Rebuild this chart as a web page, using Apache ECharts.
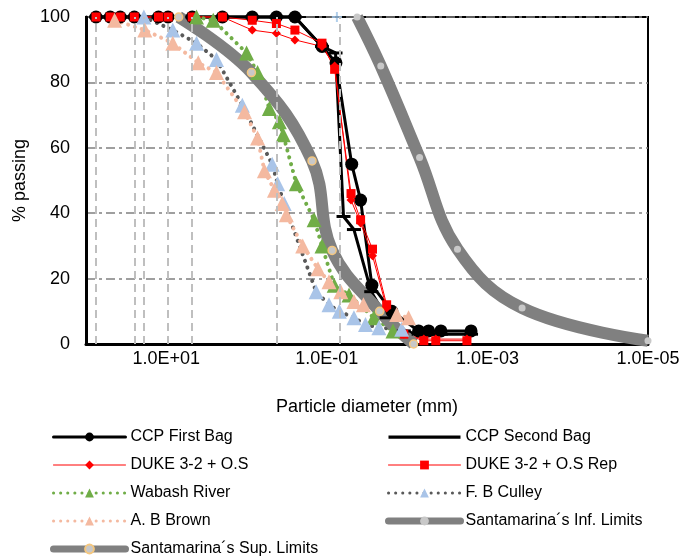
<!DOCTYPE html>
<html>
<head>
<meta charset="utf-8">
<script src="https://cdn.jsdelivr.net/npm/echarts@6/dist/echarts.min.js"></script>
<style>
  html, body { margin: 0; padding: 0; background: #fff; }
  #main { width: 698px; height: 558px; }
</style>
</head>
<body>
<div id="main"></div>
<script>
// particle diameter (mm), % passing
const ccpFirst = [[75,100],[50,100],[37.5,100],[25,100],[12.5,100],[9.5,100],[4.75,100],[2,100],[0.85,100],[0.425,100],[0.25,100],[0.115,91],[0.077,86],[0.049,55],[0.038,44],[0.0275,18],[0.0155,10],[0.0072,4],[0.0054,4],[0.0038,4],[0.0016,4]];
const ccpSecond = [[75,100],[50,100],[37.5,100],[25,100],[12.5,100],[9.5,100],[4.75,100],[2,100],[0.85,100],[0.425,100],[0.25,100],[0.115,91],[0.078,89],[0.062,39],[0.046,35],[0.028,16],[0.018,8],[0.011,4],[0.0072,3],[0.0054,3],[0.0038,3],[0.0016,3]];
const duke = [[75,100],[50,100],[37.5,100],[25,100],[12.5,100],[9.5,100],[4.75,100],[2,100],[0.85,96],[0.425,95],[0.25,93],[0.115,91],[0.08,85],[0.05,44],[0.038,37],[0.027,27],[0.018,11],[0.011,3],[0.0062,1.5],[0.0044,1.5],[0.0018,1.5]];
const dukeRep = [[75,100],[50,100],[37.5,100],[25,100],[12.5,100],[9.5,100],[4.75,100],[2,100],[0.85,99],[0.425,98],[0.25,96],[0.115,92],[0.08,84],[0.05,46],[0.038,38],[0.027,29],[0.018,12],[0.011,3],[0.0062,1],[0.0044,1],[0.0018,1]];
const wabash = [[4.2,100],[2.6,99],[1.0,89],[0.73,83],[0.52,72],[0.39,68],[0.35,64],[0.24,49],[0.144,38],[0.115,30],[0.081,18],[0.053,15],[0.026,8],[0.015,4]];
const culley = [[19,100],[8.3,96],[4.2,92],[2.37,87],[1.13,73],[0.48,55],[0.41,49],[0.34,43],[0.136,16],[0.094,12],[0.07,10],[0.046,8],[0.033,6],[0.0225,5],[0.0117,4.5]];
const brown = [[44,99],[18.5,96],[8.3,92],[4,86],[2.37,83],[1.06,71],[0.73,63],[0.6,53],[0.45,47],[0.36,43],[0.32,39.5],[0.2,30],[0.129,23],[0.094,19],[0.067,16],[0.046,13],[0.035,12],[0.0135,9],[0.0096,8]];
const infLimits = [[0.042,100],[0.0213,85],[0.007,57],[0.00236,29],[0.00037,11],[0.00001,1]];
const supLimits = [[7,100],[0.87,83],[0.153,56],[0.086,28.6],[0.022,10],[0.0083,0]];

// sieve openings (mm) marked by dashed verticals
const sieves = [75, 25, 19, 9.5, 4.75, 0.425, 0.075];
const xTickValues = [10, 0.1, 0.001, 0.00001];

const NAME_SUP = 'Santamarina\u00b4s Sup. Limits';
const NAME_INF = 'Santamarina\u00b4s Inf. Limits';
const legendLeft = ['CCP First Bag', 'DUKE 3-2 + O.S', 'Wabash River', 'A. B Brown', NAME_SUP];
const legendRight = ['CCP Second Bag', 'DUKE 3-2 + O.S Rep', 'F. B Culley', NAME_INF];
// line width of each legend sample
const legendWidths = {
    'CCP First Bag': 3, 'CCP Second Bag': 3,
    'DUKE 3-2 + O.S': 1, 'DUKE 3-2 + O.S Rep': 1,
    'Wabash River': 3, 'F. B Culley': 3, 'A. B Brown': 3
};
legendWidths[NAME_SUP] = 7;
legendWidths[NAME_INF] = 7;

const FONT = 'Liberation Sans, Arial, sans-serif';
const plusPath = 'path://M4,0H6V4H10V6H6V10H4V6H0V4H4Z';
// plain thick line for the legend sample (dash marker blends into the line)
const lineIcon = 'path://M0,0M72,11M0,4H72V7.2H0Z';

function fmtExp(v) {
    const e = Math.round(Math.log10(v));
    const s = e < 0 ? '-' : '+';
    const a = Math.abs(e);
    return '1.0E' + s + (a < 10 ? '0' : '') + a;
}

function legendItems(names) {
    return names.map(n => {
        const item = { name: n, lineStyle: { width: legendWidths[n], cap: 'round' } };
        if (n === 'CCP Second Bag') item.icon = lineIcon;
        return item;
    });
}

const chart = echarts.init(document.getElementById('main'));

const dotted = [0.1, 7];
const legendBase = {
    orient: 'vertical',
    top: 429,
    padding: 0,
    itemWidth: 72,
    itemHeight: 11,
    itemGap: 12,
    textStyle: { fontSize: 16, color: '#000', lineHeight: 16, fontFamily: FONT }
};

const option = {
    backgroundColor: '#fff',
    animation: false,
    textStyle: { fontFamily: FONT },
    grid: {
        left: 86, right: 50, top: 17, bottom: 214,
        show: true, borderColor: '#000', borderWidth: 2
    },
    xAxis: {
        type: 'log',
        logBase: 10,
        min: 0.00001,
        max: 100,
        inverse: true,
        name: 'Particle diameter (mm)',
        nameLocation: 'middle',
        nameGap: 54,
        nameTextStyle: { fontSize: 18, color: '#000', fontFamily: FONT },
        axisLine: { lineStyle: { color: '#000', width: 3 } },
        axisTick: { show: false },
        splitLine: { show: false },
        minorTick: { show: false },
        axisLabel: {
            customValues: xTickValues,
            formatter: fmtExp,
            fontSize: 18,
            color: '#000',
            margin: 6,
            fontFamily: FONT
        }
    },
    yAxis: {
        type: 'value',
        min: 0,
        max: 100,
        interval: 20,
        name: '% passing',
        nameLocation: 'middle',
        nameGap: 50,
        nameTextStyle: { fontSize: 18, color: '#000', fontFamily: FONT },
        axisLine: { show: true, lineStyle: { color: '#000', width: 3 } },
        axisTick: { show: false },
        axisLabel: { fontSize: 18, color: '#000', margin: 16, fontFamily: FONT },
        splitLine: { lineStyle: { color: '#808080', width: 1.5, type: [9, 4, 3, 4] } }
    },
    legend: [
        Object.assign({}, legendBase, { left: 50, data: legendItems(legendLeft) }),
        Object.assign({}, legendBase, { left: 385, data: legendItems(legendRight) })
    ],
    series: [
        {
            name: 'Sieves',
            type: 'scatter',
            data: sieves.map(s => [s, 100]),
            symbol: plusPath,
            symbolSize: 10,
            itemStyle: { color: '#9DC3E6' },
            z: 1,
            markLine: {
                silent: true,
                symbol: 'none',
                label: { show: false },
                lineStyle: { color: '#BFBFBF', width: 2, type: [8, 5] },
                data: sieves.map(s => ({ xAxis: s }))
            }
        },
        {
            name: 'CCP First Bag', type: 'line', data: ccpFirst, clip: false,
            symbol: 'circle', symbolSize: 13,
            lineStyle: { color: '#000', width: 3 },
            itemStyle: { color: '#000' }
        },
        {
            name: 'CCP Second Bag', type: 'line', data: ccpSecond, clip: false,
            symbol: 'rect', symbolSize: [14, 3],
            lineStyle: { color: '#000', width: 3 },
            itemStyle: { color: '#000' }
        },
        {
            name: 'DUKE 3-2 + O.S', type: 'line', data: duke, clip: false,
            symbol: 'diamond', symbolSize: 9,
            lineStyle: { color: '#FF0000', width: 1 },
            itemStyle: { color: '#FF0000' }
        },
        {
            name: 'DUKE 3-2 + O.S Rep', type: 'line', data: dukeRep, clip: false,
            symbol: 'rect', symbolSize: 9,
            lineStyle: { color: '#FF0000', width: 1 },
            itemStyle: { color: '#FF0000' }
        },
        {
            name: 'Wabash River', type: 'line', data: wabash, clip: false,
            symbol: 'triangle', symbolSize: 15,
            lineStyle: { color: '#70AD47', width: 4, type: dotted, cap: 'round' },
            itemStyle: { color: '#70AD47' }
        },
        {
            name: 'F. B Culley', type: 'line', data: culley, clip: false,
            symbol: 'triangle', symbolSize: 15,
            lineStyle: { color: '#595959', width: 4, type: dotted, cap: 'round' },
            itemStyle: { color: '#A9C4E8' }
        },
        {
            name: 'A. B Brown', type: 'line', data: brown, clip: false,
            symbol: 'triangle', symbolSize: 15,
            lineStyle: { color: '#F4B9A0', width: 4, type: dotted, cap: 'round' },
            itemStyle: { color: '#F4B9A0' }
        },
        {
            name: NAME_INF, type: 'line', data: infLimits, clip: false,
            smooth: 0.4,
            symbol: 'circle', symbolSize: 7,
            lineStyle: { color: '#808080', width: 12 },
            itemStyle: { color: '#C8C8C8' }
        },
        {
            name: NAME_SUP, type: 'line', data: supLimits, clip: false,
            smooth: 0.4,
            symbol: 'circle', symbolSize: 8,
            lineStyle: { color: '#808080', width: 12 },
            itemStyle: { color: '#C8C8C8', borderColor: '#F5C77E', borderWidth: 1.5 }
        }
    ]
};

chart.setOption(option);
</script>
</body>
</html>
